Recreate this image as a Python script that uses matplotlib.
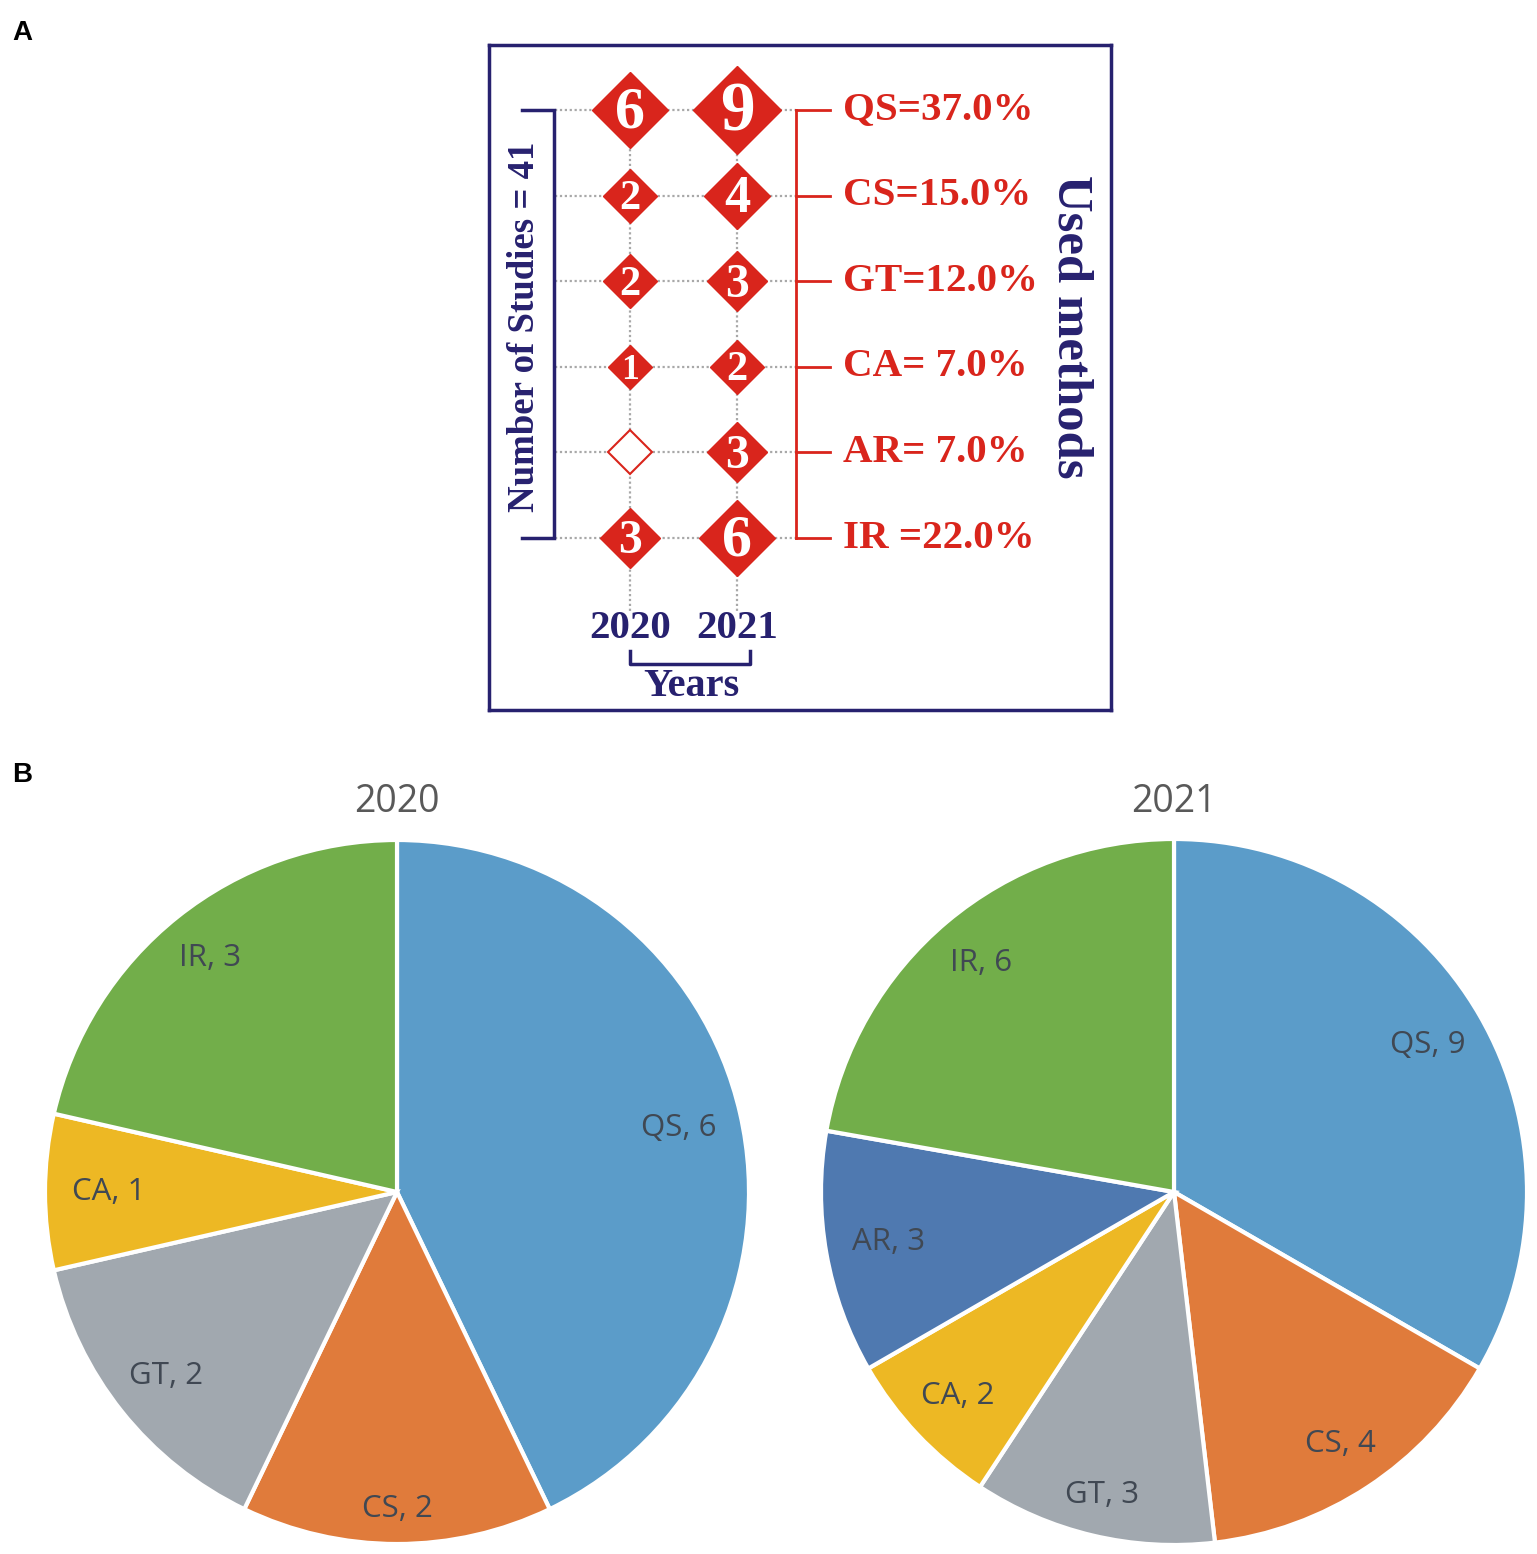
import numpy as np
import matplotlib
matplotlib.use("Agg")
import matplotlib.pyplot as plt

# data
years = ["2020", "2021"]
methods = ["QS", "CS", "GT", "CA", "AR", "IR"]
counts_2020 = [6, 2, 2, 1, 0, 3]
counts_2021 = [9, 4, 3, 2, 3, 6]
share_labels = ["QS=37.0%", "CS=15.0%", "GT=12.0%", "CA= 7.0%", "AR= 7.0%", "IR =22.0%"]
n_studies = 41

pie_methods_2020 = ["QS", "CS", "GT", "CA", "IR"]
pie_values_2020 = [6, 2, 2, 1, 3]
pie_methods_2021 = ["QS", "CS", "GT", "CA", "AR", "IR"]
pie_values_2021 = [9, 4, 3, 2, 3, 6]

RED = "#D9251C"
NAVY = "#27216F"
SERIF = "Liberation Serif"
pie_colors = {"QS": "#5B9CC9", "CS": "#E07B3B", "GT": "#A1A8AF",
              "CA": "#EDB824", "AR": "#4F79B0", "IR": "#72AE4A"}

W, H = 1537, 1554
fig = plt.figure(figsize=(W / 100, H / 100), dpi=100)


def fx(px):
    return px / W


def fy(py):
    return 1 - py / H


# ---------------- panel A ----------------
box_l, box_r, box_t, box_b = 489, 1111, 45, 710
axA = fig.add_axes([fx(box_l), fy(box_b), fx(box_r - box_l), (box_b - box_t) / H])
col_px = [630, 737]
row_px0, row_step = 110, 85.6
col_step = col_px[1] - col_px[0]
axA.set_xlim((box_l - col_px[0]) / col_step, (box_r - col_px[0]) / col_step)
axA.set_ylim((box_b - row_px0) / row_step, (box_t - row_px0) / row_step)
axA.set_xticks([])
axA.set_yticks([])
for s in axA.spines.values():
    s.set_color(NAVY)
    s.set_linewidth(2.5)

xs = np.arange(len(years))
ys = np.arange(len(methods))

# dotted grid
for y in ys:
    axA.plot([-0.7, 1.55], [y, y], ls=(0, (1, 1.2)), color="#A8A8A8", lw=1.6, zorder=1)
for x in xs:
    axA.plot([x, x], [0, 5.85], ls=(0, (1, 1.2)), color="#A8A8A8", lw=1.6, zorder=1)

# diamonds, size grows with the count
for x, counts in zip(xs, [counts_2020, counts_2021]):
    for y, v in zip(ys, counts):
        w = 23 + 21 * np.sqrt(max(v, 1))  # diamond width in px
        ms = w * 0.72 * 0.72
        if v == 0:
            axA.plot(x, y, marker="D", ms=ms, mfc="white", mec=RED, mew=1.5, zorder=3)
        else:
            axA.plot(x, y, marker="D", ms=ms, mfc=RED, mec=RED, zorder=3)
            axA.text(x, y + 0.04, str(v), ha="center", va="center", color="white",
                     family=SERIF, fontweight="bold", fontsize=w * 0.58, zorder=4)

# left navy bracket
bx = (554 - col_px[0]) / col_step
tx = (522 - col_px[0]) / col_step
axA.plot([tx, bx, bx, tx], [ys[0], ys[0], ys[-1], ys[-1]], color=NAVY, lw=2.5,
         solid_joinstyle="miter", zorder=2)
axA.text((525 - col_px[0]) / col_step, (ys[0] + ys[-1]) / 2 + 0.03,
         f"Number of Studies = {n_studies}", rotation=90, ha="center", va="center",
         color=NAVY, family=SERIF, fontweight="bold", fontsize=26.5)

# right red bracket
rx = (796 - col_px[0]) / col_step
rtx = (830 - col_px[0]) / col_step
axA.plot([rx, rx], [ys[0], ys[-1]], color=RED, lw=2, zorder=2)
for y, lab in zip(ys, share_labels):
    axA.plot([rx, rtx], [y, y], color=RED, lw=2, zorder=2)
    axA.text((843 - col_px[0]) / col_step, y, lab, ha="left", va="center",
             color=RED, family=SERIF, fontweight="bold", fontsize=29.5)

axA.text((1071 - col_px[0]) / col_step, (ys[0] + ys[-1]) / 2 + 0.03, "Used methods",
         rotation=-90, ha="center", va="center", color=NAVY, family=SERIF,
         fontweight="bold", fontsize=36.5)

# years
yl = (629 - row_px0) / row_step
for x, yr in zip(xs, years):
    axA.text(x, yl, yr, ha="center", va="center", color=NAVY, family=SERIF,
             fontweight="bold", fontsize=29.5)
ybt = (651 - row_px0) / row_step
ybb = (664 - row_px0) / row_step
x_end = (750 - col_px[0]) / col_step
axA.plot([xs[0], xs[0], x_end, x_end], [ybt, ybb, ybb, ybt], color=NAVY, lw=2.5, zorder=2)
axA.text((691 - col_px[0]) / col_step, (686 - row_px0) / row_step, "Years",
         ha="center", va="center", color=NAVY, family=SERIF, fontweight="bold", fontsize=29)

fig.text(fx(22), fy(33), "A", ha="center", va="center", family="Liberation Sans",
         fontweight="bold", fontsize=20)
fig.text(fx(22), fy(775), "B", ha="center", va="center", family="Liberation Sans",
         fontweight="bold", fontsize=20)


# ---------------- panel B ----------------
def draw_pie(cx, cy, r, names, values, title):
    ax = fig.add_axes([fx(cx - r), fy(cy + r), 2 * r / W, 2 * r / H])
    wedges, texts = ax.pie(values, labels=[f"{n}, {v}" for n, v in zip(names, values)],
                           colors=[pie_colors[n] for n in names], startangle=90,
                           counterclock=False, labeldistance=0.86,
                           wedgeprops=dict(edgecolor="white", linewidth=3),
                           textprops=dict(family="Open Sans", fontsize=22.5, color="#404853"))
    for wd, t in zip(wedges, texts):
        mid = np.deg2rad((wd.theta1 + wd.theta2) / 2)
        d = 0.9 - 0.08 * abs(np.cos(mid))
        t.set_position((d * np.cos(mid), d * np.sin(mid)))
        t.set_ha("center")
        t.set_va("center")
    ax.set_xlim(-1, 1)
    ax.set_ylim(-1, 1)
    ax.set_aspect("auto")
    fig.text(fx(cx), fy(802), title, ha="center", va="center", family="Open Sans",
             fontsize=27, color="#595959")


draw_pie(397, 1192, 352, pie_methods_2020, pie_values_2020, years[0])
draw_pie(1174, 1192, 353, pie_methods_2021, pie_values_2021, years[1])

fig.savefig("out.png", dpi=100)
